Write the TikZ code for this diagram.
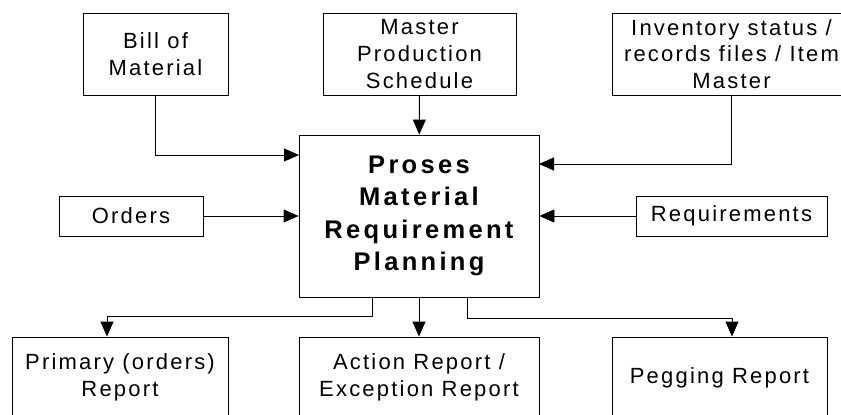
\documentclass[tikz,border=0pt]{standalone}
\usepackage{fontspec}
\setmainfont{Liberation Sans}[LetterSpace=10, BoldFeatures={LetterSpace=13}]
\usetikzlibrary{arrows.meta}
\begin{document}
\begin{tikzpicture}[x=1pt,y=-1pt,
  box/.style={draw, line width=0.9pt, inner sep=0pt, align=center,
    font=\fontsize{22}{26.8}\selectfont},
  link/.style={line width=0.9pt, -{Triangle[length=15pt,width=13pt]}}]
\useasboundingbox (0,0) rectangle (841,415);

% inputs
\node[box, minimum width=145pt, minimum height=82pt] (bom) at (155.5,54) {Bill of\\Material};
\node[box, minimum width=193pt, minimum height=82pt] (mps) at (419.5,54) {Master\\Production\\Schedule};
\node[box, minimum width=239pt, minimum height=82pt] (inv) at (731.5,54) {Inventory status /\\records files / Item\\Master};
\node[box, minimum width=144pt, minimum height=40pt] (ord) at (131,216) {Orders};
\node[box, minimum width=191pt, minimum height=40pt] (req) at (731.5,216) {Requirements};

% central process
\node[box, minimum width=240pt, minimum height=162pt,
  font=\bfseries\fontsize{25.5}{32.3}\selectfont] (proc) at (419,216)
  {Proses\\Material\\Requirement\\Planning};

% outputs
\node[box, minimum width=216pt, minimum height=81pt] (prim) at (120,377.5) {Primary (orders)\\Report};
\node[box, minimum width=240pt, minimum height=81pt] (act) at (419,377.5) {Action Report /\\Exception Report};
\node[box, minimum width=215pt, minimum height=81pt] (peg) at (719.5,377.5) {Pegging Report};

% entry points on the process box
\coordinate (bomIn) at (299,155);
\coordinate (invIn) at (539,164);

% connectors into the process
\draw[link] (bom.south) |- (bomIn);
\draw[link] (mps) -- (proc);
\draw[link] (inv.south) |- (invIn);
\draw[link] (ord) -- (proc);
\draw[link] (req) -- (proc);

% connectors out of the process
\draw[link] ([xshift=-47pt]proc.south) -- ++(0,19) -| ([xshift=-13pt]prim.north);
\draw[link] (proc) -- (act);
\draw[link] ([xshift=48pt]proc.south) -- ++(0,21) -| ([xshift=12.5pt]peg.north);
\end{tikzpicture}
\end{document}
